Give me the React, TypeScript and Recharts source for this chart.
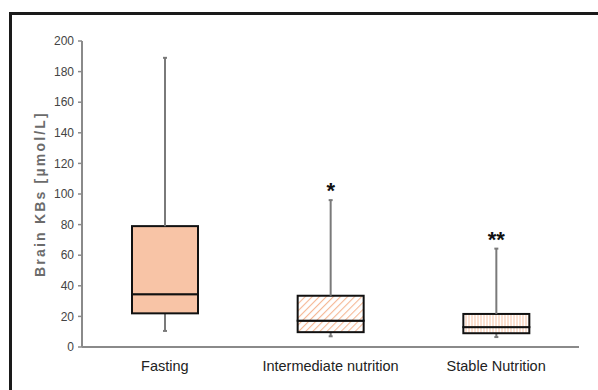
import React from "react";
import { Bar, ComposedChart, LabelList, XAxis, YAxis } from "recharts";

// values (µmol/L)
const categories = ["Fasting", "Intermediate nutrition", "Stable Nutrition"];
const mins = [10.5, 7, 6.5];
const q1s = [22, 9.7, 9];
const medians = [34.5, 17.2, 13];
const q3s = [79, 33.5, 21.6];
const maxs = [189, 96, 64.3];
const stars = ["", "*", "**"];
const yTicks = [0, 20, 40, 60, 80, 100, 120, 140, 160, 180, 200];

const fills = ["#F8C4A6", "url(#hatchDiag)", "url(#hatchVert)"];

const chartData = categories.map((name, i) => ({
  name,
  base: mins[i],
  lowWhisker: q1s[i] - mins[i],
  lowBox: medians[i] - q1s[i],
  upBox: q3s[i] - medians[i],
  upWhisker: maxs[i] - q3s[i],
}));

const WHISKER = "#7a7a7a";
const FONT = "'Liberation Sans', Arial, sans-serif";

function Empty() {
  return <g />;
}

function Whisker(props: any, capAtTop: boolean) {
  const { x, y, width, height } = props;
  const cx = x + width / 2;
  const capY = capAtTop ? y : y + height;
  return (
    <g>
      <line x1={cx} x2={cx} y1={y} y2={y + height} stroke={WHISKER} strokeWidth={2} />
      <line x1={cx - 2} x2={cx + 2} y1={capY} y2={capY} stroke={WHISKER} strokeWidth={2} />
    </g>
  );
}

function BoxPart(props: any) {
  const { x, y, width, height, index } = props;
  return (
    <rect
      x={x}
      y={y}
      width={width}
      height={height}
      fill={fills[index]}
      stroke="#111"
      strokeWidth={2}
    />
  );
}

function StarLabel(props: any) {
  const { x, y, width, index } = props;
  const s = stars[index];
  if (!s) return null;
  return (
    <text
      x={x + width / 2}
      y={y - 2}
      textAnchor="middle"
      fontSize={22}
      fontWeight="bold"
      fontFamily={FONT}
      fill="#111"
    >
      {s}
    </text>
  );
}

function YLabel(props: any) {
  const vb = props.viewBox || {};
  const x = 40;
  const y = vb.y + vb.height / 2;
  return (
    <text
      x={x}
      y={y}
      transform={`rotate(-90, ${x}, ${y})`}
      textAnchor="middle"
      dominantBaseline="central"
      fontSize={14}
      fontWeight="bold"
      letterSpacing={2.2}
      fontFamily={FONT}
      fill="#6b6b6b"
    >
      Brain KBs [µmol/L]
    </text>
  );
}

export default function App() {
  return (
    <div style={{ position: "fixed", left: 0, top: 0, width: 598, height: 390, background: "#fff" }}>
      <div
        style={{
          position: "absolute",
          left: 9,
          top: 12,
          width: 600,
          height: 400,
          borderLeft: "3px solid #1a1a1a",
          borderTop: "3px solid #1a1a1a",
        }}
      />
      <ComposedChart
        width={598}
        height={390}
        data={chartData}
        margin={{ top: 41, right: 19, bottom: 13, left: 22 }}
        barSize={66}
        style={{ position: "absolute", left: 0, top: 0 }}
      >
        <defs>
          <pattern id="hatchDiag" width="5" height="5" patternUnits="userSpaceOnUse" patternTransform="rotate(45)">
            <rect width="5" height="5" fill="#fff" />
            <line x1="0" y1="0" x2="0" y2="5" stroke="#F5B896" strokeWidth="2.2" />
          </pattern>
          <pattern id="hatchVert" width="3" height="3" patternUnits="userSpaceOnUse">
            <rect width="3" height="3" fill="#fff" />
            <line x1="1" y1="0" x2="1" y2="3" stroke="#F7C2A4" strokeWidth="1" />
          </pattern>
        </defs>
        <XAxis
          dataKey="name"
          axisLine={{ stroke: "#8a8a8a", strokeWidth: 2 }}
          tickLine={false}
          tickMargin={8}
          tick={{ fontSize: 14.5, fill: "#222", fontFamily: FONT }}
        />
        <YAxis
          domain={[0, 200]}
          ticks={yTicks}
          width={60}
          axisLine={{ stroke: "#8a8a8a", strokeWidth: 2 }}
          tickLine={{ stroke: "#8a8a8a", strokeWidth: 1.5 }}
          tickSize={4}
          tickMargin={4}
          interval={0}
          tick={{ fontSize: 12, fill: "#444", fontFamily: FONT }}
          label={<YLabel />}
        />
        <Bar dataKey="base" stackId="a" shape={Empty} isAnimationActive={false} />
        <Bar dataKey="lowWhisker" stackId="a" shape={(p: any) => Whisker(p, false)} isAnimationActive={false} />
        <Bar dataKey="lowBox" stackId="a" shape={BoxPart} isAnimationActive={false} />
        <Bar dataKey="upBox" stackId="a" shape={BoxPart} isAnimationActive={false} />
        <Bar dataKey="upWhisker" stackId="a" shape={(p: any) => Whisker(p, true)} isAnimationActive={false}>
          <LabelList dataKey="upWhisker" content={StarLabel} />
        </Bar>
      </ComposedChart>
    </div>
  );
}
